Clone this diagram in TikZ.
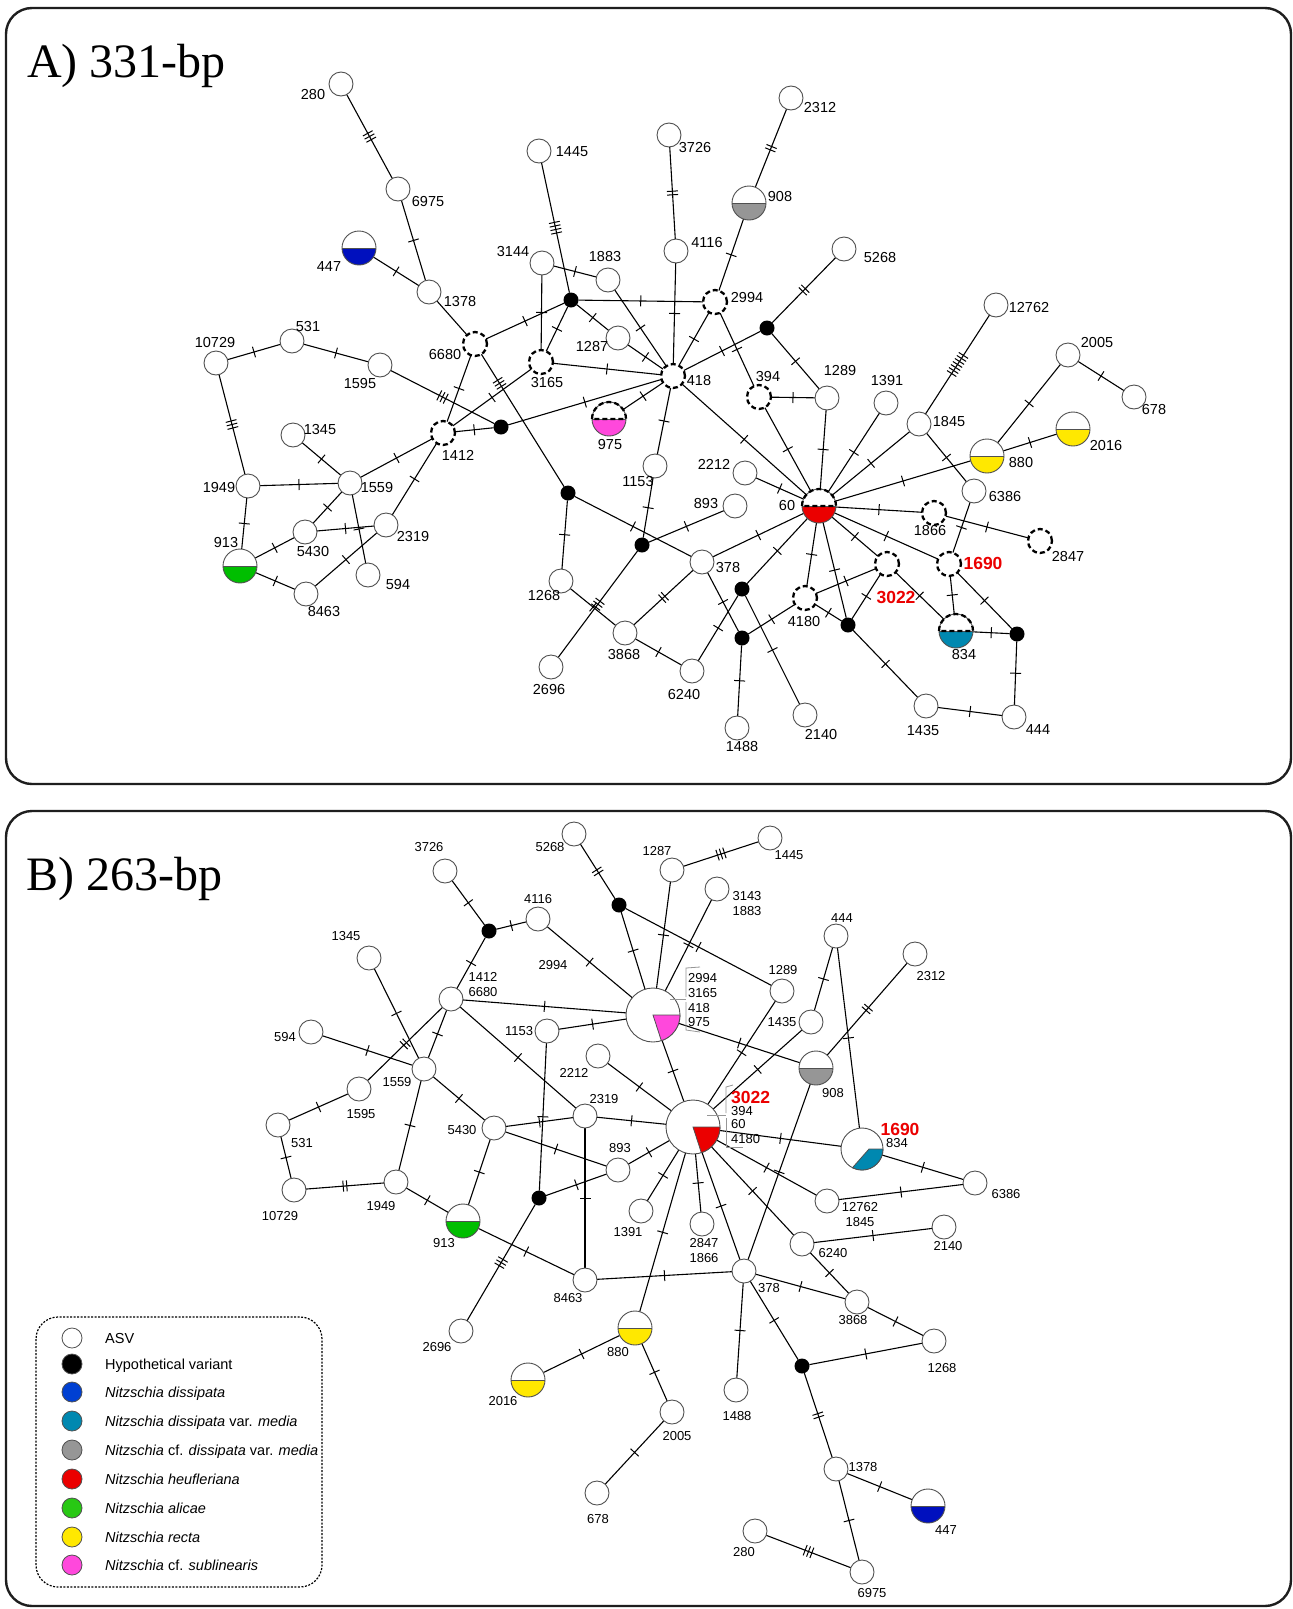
\documentclass[tikz,border=0pt]{standalone}
\usepackage{fontspec}
\setmainfont{Liberation Sans}
\newfontfamily\tfont{Liberation Serif}
\usetikzlibrary{decorations.markings}
\definecolor{ndline}{RGB}{80,80,80}
\definecolor{cblue}{RGB}{0,16,190}
\definecolor{cteal}{RGB}{0,136,176}
\definecolor{cgray}{RGB}{150,150,150}
\definecolor{cred}{RGB}{235,0,0}
\definecolor{cgreen}{RGB}{0,190,0}
\definecolor{cyel}{RGB}{255,232,0}
\definecolor{cpink}{RGB}{255,72,220}
\definecolor{lblue}{RGB}{0,64,210}
\definecolor{lgreen}{RGB}{40,200,20}
\definecolor{frm}{RGB}{30,30,30}
\definecolor{brkc}{RGB}{150,150,150}
\pgfdeclarelayer{bgfill}
\pgfdeclarelayer{bg}
\pgfsetlayers{bgfill,bg,main}
\newcommand\mkN[5]{\node[#2] (#1) at (#3) {};\node[lab] (#1l) at (#4) {#5};}
\newcommand\mkNr[5]{\node[#2] (#1) at (#3) {};\node[redlab] (#1l) at (#4) {#5};}
\newcommand\mkE[3]{\draw[lnk,tk={0.5}{#3}] (#1) -- (#2);}
\newcommand\mkEp[4]{\draw[lnk,tk={#4}{#3}] (#1) -- (#2);}
\newcommand\mkEz[2]{\draw[lnk] (#1) -- (#2);}
\newcommand\mkDT[1]{\draw[dsh] ([xshift=-17pt]#1.center) arc[start angle=180,end angle=0,radius=17pt] -- cycle;}
\tikzset{
  asv/.style={circle,draw=ndline,line width=0.9pt,fill=white,minimum size=24pt,inner sep=0pt,outer sep=0pt},
  hyp/.style={circle,fill=black,minimum size=15pt,inner sep=0pt,outer sep=0pt},
  dsh/.style={draw=black,line width=2.3pt,dash pattern=on 5pt off 3pt},
  hv/.style={circle,dsh,fill=white,minimum size=24pt,inner sep=0pt,outer sep=0pt},
  half/.style={circle,draw=ndline,line width=0.9pt,fill=white,minimum size=34pt,inner sep=0pt,outer sep=0pt,
    path picture={\fill[#1] (path picture bounding box.west) rectangle (path picture bounding box.south east);
      \draw[ndline,line width=0.9pt] (path picture bounding box.west) -- (path picture bounding box.east);}},
  big/.style={circle,draw=ndline,line width=0.9pt,fill=white,minimum size=54pt,inner sep=0pt,outer sep=0pt},
  lnk/.style={line width=1.1pt,draw=black},
  tk/.style 2 args={postaction={decorate,decoration={markings,mark=at position #1 with {\foreach \k in {1,...,#2}{\draw[line width=1pt] ({(\k-1)*3.6-(#2-1)*1.8},-5.5) -- ({(\k-1)*3.6-(#2-1)*1.8},5.5);}}}}},
  redlab/.style={font=\bfseries\fontsize{17.5}{19}\selectfont,text=cred,inner sep=0pt},
  brk/.style={draw=brkc,line width=0.8pt},
  lgc/.style={circle,draw=ndline,line width=0.8pt,minimum size=20pt,inner sep=0pt},
  lgt/.style={anchor=base west,font=\fontsize{14.5}{16}\selectfont,inner sep=0pt},
}
\begin{document}
\begin{tikzpicture}[x=1pt,y=-1pt]
\useasboundingbox (0,0) rectangle (1293,1609);
\begin{pgfonlayer}{bgfill}
\fill[white] (0,0) rectangle (1293,1609);
\end{pgfonlayer}
\draw[frm,line width=2.4pt,rounded corners=26pt] (6,8) rectangle (1291,784);
\draw[frm,line width=2.4pt,rounded corners=26pt] (6,811) rectangle (1291,1606);
\node[anchor=base west,font=\tfont\fontsize{48}{50}\selectfont,inner sep=0pt] (tA) at (27,77) {A) 331-bp};
\node[anchor=base west,font=\tfont\fontsize{48}{50}\selectfont,inner sep=0pt] (tB) at (26,890) {B) 263-bp};

% ================= Panel A =================
\begin{scope}[lab/.style={font=\fontsize{14.5}{16}\selectfont,inner sep=0pt}]
\mkN{a280}{asv}{341,84}{313,95}{280}
\mkN{a6975}{asv}{398,189}{428,202}{6975}
\mkN{a447}{half=cblue}{359,248}{329,267}{447}
\mkN{a1378}{asv}{429,292}{460,302}{1378}
\mkN{a1445}{asv}{539,151}{572,152}{1445}
\mkN{a3144}{asv}{542,263}{513,252}{3144}
\mkN{a1883}{asv}{608,280}{605,257}{1883}
\mkN{a6680}{hv}{475,344}{445,355}{6680}
\mkN{a3165}{hv}{541,362}{547,383}{3165}
\mkN{a1287}{asv}{618,338}{592,347}{1287}
\mkN{a10729}{asv}{216,363}{215,343}{10729}
\mkN{a531}{asv}{292,341}{308,327}{531}
\mkN{a1595}{asv}{380,365}{360,384}{1595}
\mkN{a1412}{hv}{443,433}{458,455}{1412}
\mkN{a975}{half=cpink}{609,419}{610,445}{975}
\mkN{a1345}{asv}{293,435}{320,430}{1345}
\mkN{a3726}{asv}{669,135}{695,148}{3726}
\mkN{a2312}{asv}{791,98}{820,108}{2312}
\mkN{a908}{half=cgray}{749,203}{780,197}{908}
\mkN{a4116}{asv}{676,251}{707,243}{4116}
\mkN{a5268}{asv}{844,249}{880,258}{5268}
\mkN{a2994}{hv}{715,302}{747,298}{2994}
\mkN{a418}{hv}{673,376}{699,381}{418}
\mkN{a394}{hv}{759,397}{768,377}{394}
\mkN{a1289}{asv}{827,398}{840,371}{1289}
\mkN{a1391}{asv}{886,403}{887,381}{1391}
\mkN{a12762}{asv}{996,305}{1029,308}{12762}
\mkN{a2005}{asv}{1068,355}{1097,343}{2005}
\mkN{a678}{asv}{1134,397}{1154,410}{678}
\mkN{a1845}{asv}{919,424}{949,422}{1845}
\mkN{a2016}{half=cyel}{1073,429}{1106,446}{2016}
\mkN{a880}{half=cyel}{987,456}{1021,463}{880}
\mkN{a6386}{asv}{974,491}{1005,497}{6386}
\mkN{a60}{half=cred}{819,506}{787,506}{60}
\mkN{a1866}{hv}{934,513}{930,531}{1866}
\mkN{a2847}{hv}{1040,541}{1068,557}{2847}
\mkNr{a1690}{hv}{949,564}{983,563}{1690}
\mkNr{a3022}{hv}{887,564}{896,597}{3022}
\mkN{a4180}{hv}{805,598}{804,622}{4180}
\mkN{a834}{half=cteal}{956,631}{964,654}{834}
\mkN{a1435}{asv}{926,706}{923,730}{1435}
\mkN{a444}{asv}{1014,717}{1038,730}{444}
\mkN{a2140}{asv}{805,715}{821,734}{2140}
\mkN{a1153}{asv}{655,466}{638,482}{1153}
\mkN{a2212}{asv}{745,473}{714,464}{2212}
\mkN{a893}{asv}{735,506}{706,504}{893}
\mkN{a378}{asv}{702,562}{728,568}{378}
\mkN{a1268}{asv}{561,581}{544,596}{1268}
\mkN{a3868}{asv}{625,633}{624,654}{3868}
\mkN{a2696}{asv}{551,667}{549,689}{2696}
\mkN{a6240}{asv}{692,671}{684,694}{6240}
\mkN{a1488}{asv}{737,728}{742,746}{1488}
\mkN{a1949}{asv}{248,486}{219,488}{1949}
\mkN{a1559}{asv}{350,483}{377,488}{1559}
\mkN{a5430}{asv}{305,532}{313,552}{5430}
\mkN{a2319}{asv}{386,525}{413,537}{2319}
\mkN{a913}{half=cgreen}{240,566}{226,543}{913}
\mkN{a594}{asv}{368,575}{398,584}{594}
\mkN{a8463}{asv}{306,594}{324,612}{8463}
\node[hyp] (ah1) at (571,300) {};
\node[hyp] (ah2) at (501,427) {};
\node[hyp] (ah3) at (767,328) {};
\node[hyp] (ah4) at (848,625) {};
\node[hyp] (ah5) at (1017,634) {};
\node[hyp] (ah6) at (568,493) {};
\node[hyp] (ah7) at (642,545) {};
\node[hyp] (ah8) at (742,589) {};
\node[hyp] (ah9) at (742,638) {};
\mkDT{a975}
\mkDT{a60}
\mkDT{a834}
\end{scope}

\begin{pgfonlayer}{bg}
\mkE{a280}{a6975}{3}
\mkE{a6975}{a1378}{1}
\mkE{a447}{a1378}{1}
\mkEz{a1378}{a6680}
\mkE{a1445}{ah1}{4}
\mkE{a3144}{a1883}{1}
\mkE{a3144}{a3165}{1}
\mkE{ah1}{a3165}{1}
\mkE{ah1}{a1287}{1}
\mkE{ah1}{a2994}{1}
\mkE{a6680}{ah1}{1}
\mkE{a10729}{a531}{1}
\mkE{a531}{a1595}{1}
\mkE{a10729}{a1949}{3}
\mkE{a1595}{ah2}{3}
\mkE{a6680}{a1412}{1}
\mkEp{a6680}{ah6}{3}{0.22}
\mkE{a3165}{a1412}{1}
\mkE{a3165}{a418}{1}
\mkE{a1412}{ah2}{1}
\mkE{ah2}{a418}{1}
\mkE{a1883}{a418}{1}
\mkE{a1287}{a418}{1}
\mkE{a4116}{a418}{1}
\mkE{a3726}{a4116}{2}
\mkE{a2312}{a908}{2}
\mkE{a908}{a2994}{1}
\mkE{a2994}{a418}{1}
\mkE{a418}{ah3}{1}
\mkE{a5268}{ah3}{2}
\mkE{a2994}{a394}{1}
\mkE{ah3}{a1289}{1}
\mkE{a394}{a1289}{1}
\mkE{a975}{a418}{1}
\mkE{a418}{a1153}{1}
\mkE{a418}{a60}{1}
\mkE{a394}{a60}{1}
\mkE{a1289}{a60}{1}
\mkE{a1391}{a60}{1}
\mkE{a1845}{a60}{1}
\mkE{a12762}{a1845}{7}
\mkE{a1845}{a6386}{1}
\mkE{a2005}{a880}{1}
\mkE{a2005}{a678}{1}
\mkE{a880}{a2016}{1}
\mkE{a880}{a60}{1}
\mkE{a60}{a1866}{1}
\mkE{a1866}{a2847}{1}
\mkE{a6386}{a1690}{1}
\mkE{a60}{a1690}{1}
\mkE{a60}{a3022}{1}
\mkE{a60}{a4180}{1}
\mkE{a60}{ah4}{1}
\mkE{a4180}{a3022}{1}
\mkE{a3022}{ah4}{1}
\mkE{a3022}{a834}{1}
\mkE{a1690}{a834}{1}
\mkE{a1690}{ah5}{1}
\mkE{a834}{ah5}{1}
\mkE{ah5}{a444}{1}
\mkE{a444}{a1435}{1}
\mkE{a1435}{ah4}{1}
\mkE{a4180}{ah4}{1}
\mkE{a4180}{ah9}{1}
\mkE{ah9}{a1488}{1}
\mkE{a60}{ah8}{1}
\mkE{ah8}{a6240}{1}
\mkE{ah8}{a2140}{1}
\mkE{a378}{ah9}{1}
\mkE{a378}{a60}{1}
\mkE{a378}{a3868}{2}
\mkE{a3868}{a6240}{1}
\mkE{a3868}{a1268}{1}
\mkE{a1268}{ah6}{1}
\mkE{ah6}{a378}{1}
\mkE{a1153}{ah7}{1}
\mkE{ah7}{a893}{1}
\mkE{ah7}{a2696}{3}
\mkE{a2212}{a60}{1}
\mkE{a1345}{a1559}{1}
\mkE{a1949}{a1559}{1}
\mkE{a1559}{a1412}{1}
\mkE{a1412}{a2319}{1}
\mkE{a1559}{a5430}{1}
\mkE{a1559}{a594}{1}
\mkE{a5430}{a2319}{1}
\mkE{a1949}{a913}{1}
\mkE{a913}{a5430}{1}
\mkE{a913}{a8463}{1}
\mkE{a8463}{a2319}{1}
\end{pgfonlayer}

% ================= Panel B =================
\begin{scope}[lab/.style={font=\fontsize{13}{15}\selectfont,inner sep=0pt,align=center},
              labw/.style={font=\fontsize{13}{15}\selectfont,inner sep=0pt,anchor=west}]
\mkN{b3726}{asv}{445,871}{429,847}{3726}
\mkN{b5268}{asv}{574,834}{550,847}{5268}
\mkN{b4116}{asv}{538,919}{538,899}{4116}
\mkN{b1345}{asv}{369,958}{346,936}{1345}
\mkN{b1412}{asv}{451,999}{483,985}{1412\\6680}
\mkN{b594}{asv}{311,1032}{285,1037}{594}
\mkN{b1153}{asv}{547,1031}{519,1031}{1153}
\mkN{b1559}{asv}{424,1069}{397,1082}{1559}
\mkN{b1595}{asv}{359,1089}{361,1114}{1595}
\mkN{b2212}{asv}{598,1056}{574,1073}{2212}
\mkN{b2319}{asv}{585,1116}{604,1099}{2319}
\mkN{b5430}{asv}{494,1128}{462,1130}{5430}
\mkN{b531}{asv}{278,1125}{302,1143}{531}
\mkN{b893}{asv}{618,1170}{620,1148}{893}
\mkN{b1949}{asv}{396,1182}{381,1206}{1949}
\mkN{b10729}{asv}{294,1190}{280,1216}{10729}
\mkN{b913}{half=cgreen}{463,1221}{444,1243}{913}
\mkN{b1287}{asv}{672,870}{657,851}{1287}
\mkN{b1445}{asv}{770,838}{789,855}{1445}
\mkN{b3143}{asv}{717,889}{747,904}{3143\\1883}
\mkN{b1289}{asv}{782,991}{783,970}{1289}
\mkN{b444}{asv}{836,936}{842,918}{444}
\mkN{b2312}{asv}{915,954}{931,976}{2312}
\mkN{b1435}{asv}{811,1022}{782,1022}{1435}
\mkN{b908}{half=cgray}{816,1068}{833,1093}{908}
\mkN{b12762}{asv}{827,1201}{860,1215}{12762\\1845}
\mkN{b6386}{asv}{975,1183}{1006,1194}{6386}
\mkN{b1391}{asv}{641,1211}{628,1232}{1391}
\mkN{b2847}{asv}{702,1224}{704,1251}{2847\\1866}
\mkN{b8463}{asv}{585,1280}{568,1298}{8463}
\mkN{b2696}{asv}{461,1331}{437,1347}{2696}
\mkN{b880}{half=cyel}{635,1328}{618,1352}{880}
\mkN{b2016}{half=cyel}{528,1380}{503,1401}{2016}
\mkN{b678}{asv}{597,1493}{598,1519}{678}
\mkN{b378}{asv}{744,1271}{769,1288}{378}
\mkN{b6240}{asv}{802,1244}{833,1253}{6240}
\mkN{b2140}{asv}{944,1227}{948,1246}{2140}
\mkN{b3868}{asv}{857,1302}{853,1320}{3868}
\mkN{b1268}{asv}{934,1341}{942,1368}{1268}
\mkN{b1488}{asv}{736,1390}{737,1416}{1488}
\mkN{b2005}{asv}{672,1412}{677,1436}{2005}
\mkN{b1378}{asv}{836,1469}{863,1467}{1378}
\mkN{b447}{half=cblue}{928,1506}{946,1530}{447}
\mkN{b280}{asv}{755,1531}{744,1552}{280}
\mkN{b6975}{asv}{862,1572}{872,1593}{6975}
\node[hyp] (bh1) at (489,931) {};
\node[hyp] (bh2) at (619,905) {};
\node[hyp] (bh3) at (539,1198) {};
\node[hyp] (bh4) at (802,1366) {};
\node[lab] (b2994f) at (553,965) {2994};
% big pink node
\node[big] (bP) at (653,1015) {};
\fill[cpink,draw=ndline,line width=0.8pt] (bP.center) -- ++(0:27pt) arc[start angle=0,end angle=-72,radius=27pt] -- cycle;
\node[labw] (bPl1) at (688,978) {2994};
\node[labw] (bPl2) at (688,993) {3165};
\node[labw] (bPl3) at (688,1008) {418};
\node[labw] (bPl4) at (688,1022) {975};
\draw[brk] (700,967) -- (686,968) -- (686,997);
\draw[brk] (670,999) -- (686,999);
\draw[brk] (686,1002) -- (686,1030) -- (700,1032);
% big red node
\node[big] (bR) at (693,1127) {};
\fill[cred,draw=ndline,line width=0.8pt] (bR.center) -- ++(0:27pt) arc[start angle=0,end angle=-72,radius=27pt] -- cycle;
\node[redlab,anchor=west] (bRl1) at (731,1097) {3022};
\node[labw] (bRl2) at (731,1111) {394};
\node[labw] (bRl3) at (731,1124) {60};
\node[labw] (bRl4) at (731,1139) {4180};
\draw[brk] (733,1085) -- (726,1087) -- (726,1113);
\draw[brk] (707,1115) -- (726,1115);
\draw[brk] (726,1118) -- (726,1147) -- (743,1147);
% 1690 / 834 node
\node[circle,draw=ndline,line width=0.9pt,fill=white,minimum size=42pt,inner sep=0pt,outer sep=0pt] (b1690) at (862,1149) {};
\fill[cteal,draw=ndline,line width=0.8pt] ([xshift=7pt]b1690.center) -- ([xshift=21pt]b1690.center) arc[start angle=0,end angle=-117,radius=21pt] -- cycle;
\node[redlab] (b1690l) at (900,1129) {1690};
\node[lab] (b834l) at (897,1143) {834};
\end{scope}

\begin{pgfonlayer}{bg}
\mkE{b3726}{bh1}{1}
\mkE{bh1}{b4116}{1}
\mkE{bh1}{b1412}{1}
\mkE{b4116}{bP}{1}
\mkE{b5268}{bh2}{2}
\mkE{bh2}{bP}{1}
\mkE{bh2}{b1289}{1}
\mkE{b1287}{b1445}{3}
\mkE{b1287}{bP}{1}
\mkE{b3143}{bP}{1}
\mkE{b1412}{bP}{1}
\mkE{b1153}{bP}{1}
\mkE{bP}{b908}{1}
\mkE{bP}{bR}{1}
\mkE{b1289}{bR}{1}
\mkE{b1435}{bR}{1}
\mkE{b444}{b1435}{1}
\mkE{b444}{b1690}{1}
\mkE{b2312}{b908}{2}
\mkE{b908}{b378}{1}
\mkE{b1412}{b1559}{1}
\mkE{b1412}{b1595}{2}
\mkE{b1345}{b1559}{1}
\mkE{b594}{b1559}{1}
\mkE{b1412}{b2319}{1}
\mkE{b1559}{b5430}{1}
\mkE{b1559}{b1949}{1}
\mkE{b531}{b1595}{1}
\mkE{b531}{b10729}{1}
\mkE{b10729}{b1949}{2}
\mkE{b1949}{b913}{1}
\mkE{b5430}{b913}{1}
\mkE{b5430}{b2319}{1}
\mkE{b5430}{b893}{1}
\mkE{b2319}{bR}{1}
\mkE{b2319}{b8463}{1}
\mkE{b2212}{bR}{1}
\mkE{b893}{bh3}{1}
\mkE{b893}{bR}{1}
\mkE{bh3}{b2696}{3}
\mkE{bh3}{b1153}{1}
\mkE{b913}{b8463}{1}
\mkE{b8463}{b378}{1}
\mkE{bR}{b1391}{1}
\mkE{bR}{b880}{1}
\mkE{bR}{b2847}{1}
\mkE{bR}{b378}{1}
\mkE{bR}{b6240}{1}
\mkE{bR}{b12762}{1}
\mkE{bR}{b1690}{1}
\mkE{b1690}{b6386}{1}
\mkE{b12762}{b6386}{1}
\mkE{b6240}{b2140}{1}
\mkE{b6240}{b3868}{1}
\mkE{b378}{b3868}{1}
\mkE{b3868}{b1268}{1}
\mkE{b378}{b1488}{1}
\mkE{b378}{bh4}{1}
\mkE{bh4}{b1268}{1}
\mkE{bh4}{b1378}{2}
\mkE{b1378}{b447}{1}
\mkE{b1378}{b6975}{1}
\mkE{b6975}{b280}{3}
\mkE{b880}{b2016}{1}
\mkE{b880}{b2005}{1}
\mkE{b2005}{b678}{1}
\end{pgfonlayer}

% ================= Legend =================
\draw[black,line width=1.2pt,dash pattern=on 2pt off 1.5pt,rounded corners=22pt] (36,1317) rectangle (322,1587);
\node[lgc,fill=white] (lg1) at (72,1338) {};
\node[lgt] (lg1t) at (105,1343) {ASV};
\node[lgc,fill=black] (lg2) at (72,1364) {};
\node[lgt] (lg2t) at (105,1369) {Hypothetical variant};
\node[lgc,fill=lblue] (lg3) at (72,1392) {};
\node[lgt] (lg3t) at (105,1397) {\itshape Nitzschia dissipata};
\node[lgc,fill=cteal] (lg4) at (72,1421) {};
\node[lgt] (lg4t) at (105,1426) {\textit{Nitzschia dissipata} var. \textit{media}};
\node[lgc,fill=cgray] (lg5) at (72,1450) {};
\node[lgt] (lg5t) at (105,1455) {\textit{Nitzschia} cf. \textit{dissipata} var. \textit{media}};
\node[lgc,fill=cred] (lg6) at (72,1479) {};
\node[lgt] (lg6t) at (105,1484) {\itshape Nitzschia heufleriana};
\node[lgc,fill=lgreen] (lg7) at (72,1508) {};
\node[lgt] (lg7t) at (105,1513) {\itshape Nitzschia alicae};
\node[lgc,fill=cyel] (lg8) at (72,1537) {};
\node[lgt] (lg8t) at (105,1542) {\itshape Nitzschia recta};
\node[lgc,fill=cpink] (lg9) at (72,1565) {};
\node[lgt] (lg9t) at (105,1570) {\textit{Nitzschia} cf. \textit{sublinearis}};
\end{tikzpicture}
\end{document}
